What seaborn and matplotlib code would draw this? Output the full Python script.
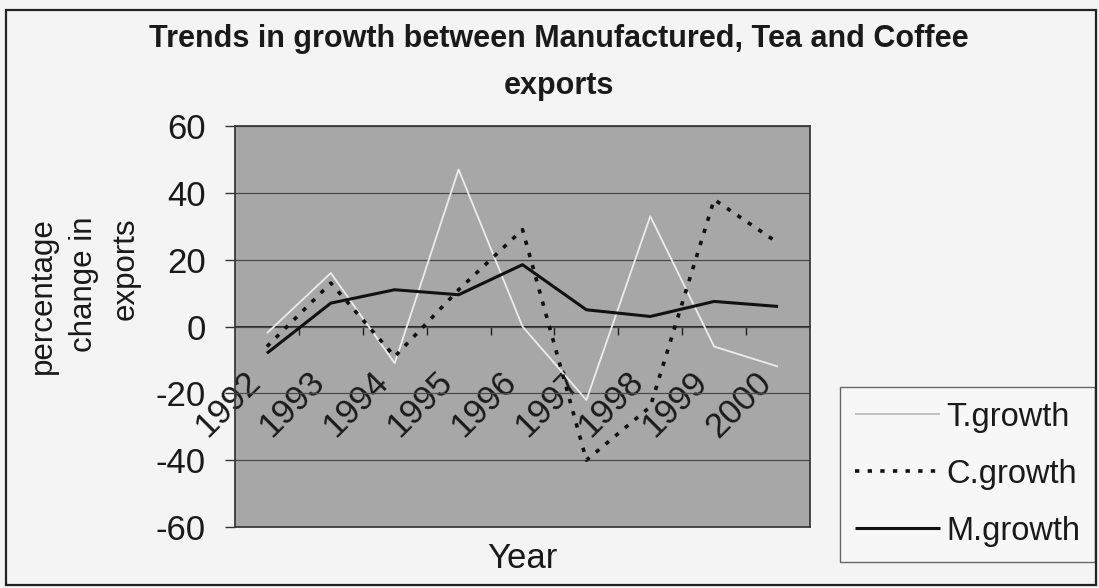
import numpy as np
import pandas as pd
import seaborn as sns
import matplotlib
matplotlib.use("Agg")
import matplotlib.pyplot as plt
from matplotlib.patches import Rectangle

# ---- data ----
years = [1992, 1993, 1994, 1995, 1996, 1997, 1998, 1999, 2000]
year_labels = [str(y) for y in years]
t_growth = [-2, 16, -11, 47, 0, -22, 33, -6, -12]
c_growth = [-6, 13, -9, 11, 29, -40, -24, 38, 25]
m_growth = [-8, 7, 11, 9.5, 18.5, 5, 3, 7.5, 6]
series_names = ["T.growth", "C.growth", "M.growth"]
y_ticks = [-60, -40, -20, 0, 20, 40, 60]

df = pd.DataFrame({"Year": years,
                   "T.growth": t_growth,
                   "C.growth": c_growth,
                   "M.growth": m_growth})

sns.set_theme(style="white")
plt.rcParams["font.family"] = ["Liberation Sans", "DejaVu Sans"]
plt.rcParams["axes.unicode_minus"] = False

fig = plt.figure(figsize=(10.99, 5.88), dpi=100)
fig.patch.set_facecolor("#f4f4f4")

# outer chart border
fig.patches.append(Rectangle((6 / 1099, 3 / 588), 1090 / 1099, 575 / 588,
                             transform=fig.transFigure, fill=False,
                             edgecolor="#222222", linewidth=1.6, zorder=0))

ax = fig.add_axes([235 / 1099, 1 - 527 / 588, 575 / 1099, 401 / 588])
ax.set_facecolor("#a7a7a7")

styles = {
    "T.growth": dict(color="#ececec", lw=1.3, linestyle="-"),
    "C.growth": dict(color="#111111", lw=2.6, linestyle=(0, (1.2, 2.3))),
    "M.growth": dict(color="#111111", lw=2.2, linestyle="-"),
}
for name in series_names:
    sns.lineplot(data=df, x="Year", y=name, ax=ax, label=name,
                 solid_capstyle="butt", dash_capstyle="butt", zorder=3,
                 **styles[name])

ax.set_xlim(years[0] - 0.5, years[-1] + 0.5)
ax.set_ylim(y_ticks[0], y_ticks[-1])
ax.set_yticks(y_ticks)
ax.yaxis.grid(True, color="#4a4a4a", linewidth=0.9)
ax.xaxis.grid(False)
for sp in ax.spines.values():
    sp.set_visible(True)
    sp.set_color("#3a3a3a")
    sp.set_linewidth(1.3)

ax.tick_params(axis="y", direction="out", length=7, width=1, color="#333333",
               pad=14, labelsize=25, labelcolor="#1a1a1a", left=True)
ax.tick_params(axis="x", length=0, labelbottom=False, bottom=False)

# category axis crossing at zero
sec = ax.secondary_xaxis(0, transform=ax.transData)
sec.spines["bottom"].set_color("#111111")
sec.spines["bottom"].set_linewidth(1.3)
sec.set_xticks(years, labels=year_labels)
sec.set_xticks([y + 0.5 for y in years[:-1]], minor=True)
sec.tick_params(axis="x", which="major", length=0, pad=28, labelsize=25,
                labelcolor="#1a1a1a", labelrotation=45)
sec.tick_params(axis="x", which="minor", length=6, width=1, color="#222222",
                direction="out")
for lab in sec.get_xticklabels():
    lab.set_ha("right")
    lab.set_va("top")
    lab.set_rotation_mode("default")

# axis titles
ax.set_xlabel("Year", fontsize=25, color="#1a1a1a", labelpad=11)
ax.set_ylabel("percentage\nchange in\nexports", fontsize=22.5, color="#1a1a1a",
              linespacing=1.5)
ax.yaxis.set_label_coords((84 - 235) / 575, (527 - 217) / 401)
ax.yaxis.label.set_ha("right")
ax.yaxis.label.set_va("center")
ax.yaxis.label.set_multialignment("right")

fig.suptitle("Trends in growth between Manufactured, Tea and Coffee\nexports",
             x=559 / 1099, y=1 - 24 / 588, va="top", ha="center",
             fontsize=22, fontweight="bold", color="#1a1a1a", linespacing=1.75)

leg = ax.legend(loc="upper left", bbox_to_anchor=(840 / 1099, 1 - 387 / 588),
                bbox_transform=fig.transFigure, fontsize=23.5, frameon=True,
                fancybox=False, shadow=False, handlelength=2.6,
                handletextpad=0.22, labelspacing=0.8, borderpad=0.45,
                borderaxespad=0)
leg.get_frame().set_edgecolor("#444444")
leg.get_frame().set_linewidth(1.0)
leg.get_frame().set_facecolor("#f8f8f8")
for txt in leg.get_texts():
    txt.set_color("#1a1a1a")
# make the very light T line visible on the white legend like the reference
leg.get_lines()[0].set_color("#bdbdbd")

fig.savefig("out.png", dpi=100, facecolor=fig.get_facecolor())
